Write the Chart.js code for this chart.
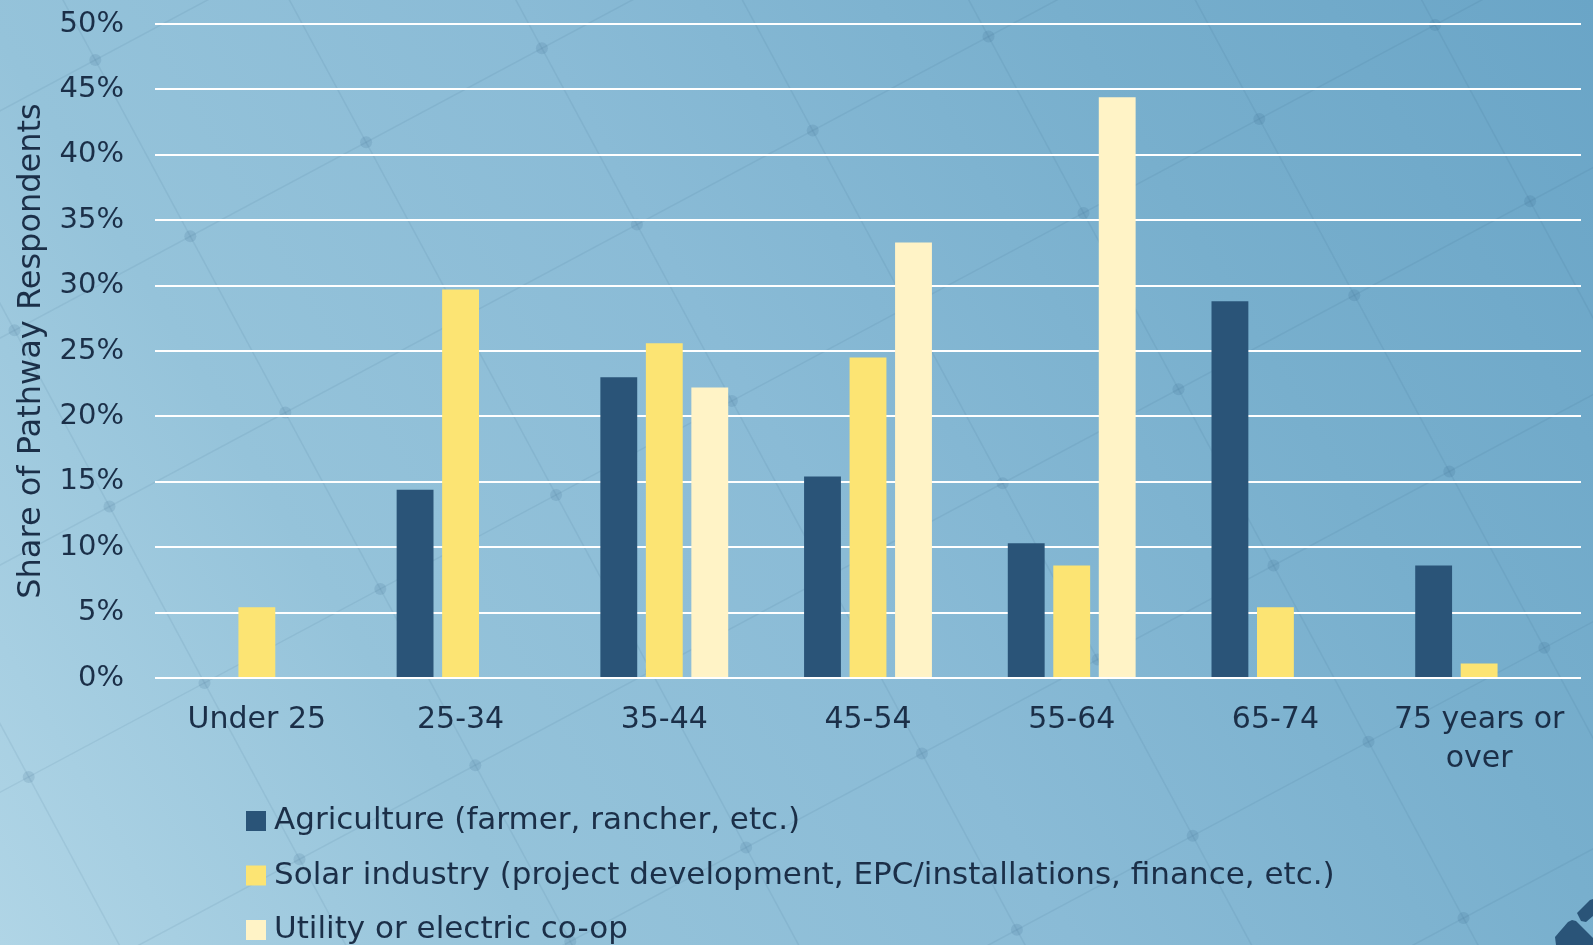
<!DOCTYPE html>
<html lang="en">
<head>
    <meta charset="UTF-8">
    <title>Share of Pathway Respondents by Age</title>
    <script src="https://cdn.jsdelivr.net/npm/chart.js"></script>
    <style>
        body {
            margin: 0;
            padding: 0;
            overflow: hidden;
            background: #8cbcd6;
        }
        .wrap {
            position: relative;
            width: 1593px;
            height: 945px;
        }
    </style>
</head>
<body>
    <div class="wrap">
        <canvas id="ageChart"></canvas>
    </div>

    <script>
        // Age groups and share of respondents (%) in each pathway
        const ageGroups = ['Under 25', '25-34', '35-44', '45-54', '55-64', '65-74', ['75 years or', 'over']];
        const agriculture = [0, 14.4, 23.0, 15.4, 10.3, 28.8, 8.6];
        const solarIndustry = [5.4, 29.7, 25.6, 24.5, 8.6, 5.4, 1.1];
        const utilityCoop = [0, 0, 22.2, 33.3, 44.4, 0, 0];
        const seriesNames = [
            'Agriculture (farmer, rancher, etc.)',
            'Solar industry (project development, EPC/installations, finance, etc.)',
            'Utility or electric co-op'
        ];

        const textColor = '#1b2f48';
        const fontFamily = '"DejaVu Sans", sans-serif';

        // gradient background with the faint solar-panel grid
        const backdrop = {
            id: 'backdrop',
            beforeDraw(chart) {
                const { ctx, width, height } = chart;
                ctx.save();
                const g = ctx.createLinearGradient(0, height, width, 0);
                g.addColorStop(0, '#b0d5e6');
                g.addColorStop(0.25, '#95c3da');
                g.addColorStop(0.5, '#8abbd6');
                g.addColorStop(0.75, '#78afcd');
                g.addColorStop(1, '#6aa5c7');
                ctx.fillStyle = g;
                ctx.fillRect(0, 0, width, height);

                const ox = 988.5, oy = 36.6;
                const ax = 95, ay = 176.3, bx = 175.8, by = -94;
                ctx.strokeStyle = 'rgba(40, 85, 125, 0.09)';
                ctx.lineWidth = 1.5;
                for (let k = -15; k <= 15; k++) {
                    const px = ox + k * bx, py = oy + k * by;
                    ctx.beginPath();
                    ctx.moveTo(px - 20 * ax, py - 20 * ay);
                    ctx.lineTo(px + 20 * ax, py + 20 * ay);
                    ctx.stroke();
                    const qx = ox + k * ax, qy = oy + k * ay;
                    ctx.beginPath();
                    ctx.moveTo(qx - 20 * bx, qy - 20 * by);
                    ctx.lineTo(qx + 20 * bx, qy + 20 * by);
                    ctx.stroke();
                }
                ctx.fillStyle = 'rgba(40, 85, 125, 0.13)';
                for (let i = -15; i <= 15; i++) {
                    for (let j = -15; j <= 15; j++) {
                        const x = ox + i * ax + j * bx, y = oy + i * ay + j * by;
                        if (x < -10 || x > width + 10 || y < -10 || y > height + 10) continue;
                        ctx.beginPath();
                        ctx.arc(x, y, 6, 0, Math.PI * 2);
                        ctx.fill();
                    }
                }

                // corner mark
                ctx.fillStyle = '#2a5478';
                ctx.beginPath();
                ctx.moveTo(1577, 913);
                ctx.lineTo(1590, 900);
                ctx.lineTo(1593, 899);
                ctx.lineTo(1593, 916);
                ctx.lineTo(1586, 922);
                ctx.lineTo(1581, 921);
                ctx.closePath();
                ctx.fill();
                ctx.beginPath();
                ctx.moveTo(1555, 937);
                ctx.lineTo(1568, 922);
                ctx.lineTo(1572, 920);
                ctx.lineTo(1576, 921);
                ctx.lineTo(1593, 938);
                ctx.lineTo(1593, 945);
                ctx.lineTo(1556, 945);
                ctx.closePath();
                ctx.fill();
                ctx.restore();
            }
        };

        // stacked legend rows under the axis
        const legendRows = {
            id: 'legendRows',
            afterDraw(chart) {
                const ctx = chart.ctx;
                ctx.save();
                ctx.font = '31px ' + fontFamily;
                ctx.textBaseline = 'middle';
                chart.data.datasets.forEach((ds, i) => {
                    const y = 821 + i * 54.5;
                    ctx.fillStyle = ds.backgroundColor;
                    ctx.fillRect(246, y - 10, 20, 20);
                    ctx.fillStyle = textColor;
                    ctx.fillText(ds.label, 274, y);
                });
                ctx.restore();
            }
        };

        const ctx = document.getElementById('ageChart').getContext('2d');
        new Chart(ctx, {
            type: 'bar',
            data: {
                labels: ageGroups,
                datasets: [
                    { label: seriesNames[0], data: agriculture, backgroundColor: '#2a5478' },
                    { label: seriesNames[1], data: solarIndustry, backgroundColor: '#fce473' },
                    { label: seriesNames[2], data: utilityCoop, backgroundColor: '#fff3c6' }
                ]
            },
            options: {
                responsive: true,
                maintainAspectRatio: false,
                animation: false,
                layout: { padding: { left: 0, right: 12, top: 0, bottom: 167 } },
                datasets: { bar: { categoryPercentage: 0.67, barPercentage: 0.81 } },
                plugins: {
                    legend: { display: false },
                    tooltip: { enabled: false }
                },
                scales: {
                    x: {
                        grid: { display: false },
                        border: { display: false },
                        ticks: {
                            color: textColor,
                            font: { family: fontFamily, size: 30, lineHeight: 1.3 },
                            padding: 15,
                            maxRotation: 0,
                            autoSkip: false
                        },
                        afterFit(scale) { scale.height = 100; }
                    },
                    y: {
                        min: 0,
                        max: 50,
                        border: { display: false },
                        grid: { color: '#ffffff', lineWidth: 2, drawTicks: false },
                        ticks: {
                            stepSize: 5,
                            padding: 31,
                            color: textColor,
                            font: { family: fontFamily, size: 29 },
                            callback: v => v + '%'
                        },
                        title: {
                            display: true,
                            text: 'Share of Pathway Respondents',
                            color: textColor,
                            font: { family: fontFamily, size: 32 },
                            padding: { top: 12, bottom: 0 }
                        },
                        afterFit(scale) {
                            scale.width = 155;
                            scale.paddingTop = 24;
                        }
                    }
                }
            },
            plugins: [backdrop, legendRows]
        });
    </script>
</body>
</html>
